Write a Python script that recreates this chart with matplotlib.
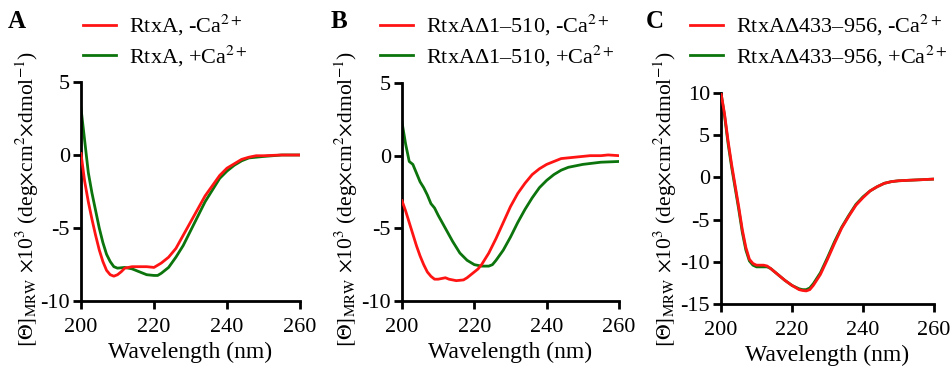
import matplotlib
matplotlib.use('Agg')
import matplotlib.pyplot as plt
from matplotlib.ticker import FuncFormatter

plt.rcParams['font.family'] = ['Liberation Serif', 'DejaVu Serif']
plt.rcParams['mathtext.fontset'] = 'stix'

# Panel A: RtxA
wl_a = [200, 201, 202, 203, 204, 205, 206, 207, 208, 209, 210, 211, 212, 214, 216, 218, 220, 222, 224, 226, 228,
        230, 232, 234, 236, 238, 240, 242, 244, 246, 248, 250, 255, 260]
a_minus = [0.1, -1.8, -3.2, -4.4, -5.5, -6.5, -7.3, -7.9, -8.2, -8.3, -8.2, -8.0, -7.75, -7.65, -7.65, -7.65, -7.7,
           -7.4, -7.0, -6.4, -5.5, -4.6, -3.7, -2.8, -2.1, -1.4, -0.9, -0.6, -0.3, -0.15, -0.05, -0.05, 0.0, 0.0]
wl_a2 = [200, 201, 202, 203, 204, 205, 206, 207, 208, 209, 210, 212, 214, 216, 218, 220, 221, 222, 224, 226, 228,
         230, 232, 234, 236, 238, 240, 242, 244, 246, 248, 250, 255, 260]
a_plus = [3.2, 1.0, -1.2, -2.6, -3.8, -5.0, -6.0, -6.8, -7.3, -7.65, -7.75, -7.7, -7.8, -8.0, -8.2, -8.25, -8.25,
          -8.1, -7.7, -7.0, -6.2, -5.2, -4.2, -3.2, -2.4, -1.6, -1.1, -0.7, -0.4, -0.2, -0.15, -0.1, 0.0, 0.0]

# Panel B: RtxA d1-510
wl_b = [200, 201, 202, 203, 204, 205, 206, 207, 208, 209, 210, 212, 213, 215, 217, 218, 219, 220, 221, 222, 224,
        226, 228, 230, 232, 234, 236, 238, 240, 242, 244, 246, 248, 250, 252, 255, 257, 260]
b_minus = [-3.1, -3.8, -4.6, -5.4, -6.2, -6.9, -7.5, -8.0, -8.3, -8.5, -8.5, -8.4, -8.5, -8.6, -8.55, -8.4, -8.2,
           -8.0, -7.8, -7.5, -6.7, -5.7, -4.6, -3.5, -2.6, -1.9, -1.3, -0.9, -0.6, -0.4, -0.2, -0.15, -0.1, -0.05,
           0.0, 0.0, 0.05, 0.0]
wl_b2 = [200, 201, 202, 203, 204, 205, 206, 207, 208, 209, 210, 212, 214, 216, 218, 220, 222, 224, 225, 226, 228,
         230, 232, 234, 236, 238, 240, 242, 244, 246, 248, 250, 255, 260]
b_plus = [2.3, 0.8, -0.4, -0.6, -1.2, -1.8, -2.2, -2.7, -3.3, -3.6, -4.1, -5.0, -5.9, -6.7, -7.2, -7.5, -7.6, -7.6,
          -7.5, -7.2, -6.5, -5.6, -4.6, -3.7, -2.9, -2.2, -1.7, -1.3, -1.0, -0.8, -0.7, -0.6, -0.45, -0.4]

# Panel C: RtxA d433-956
wl_c = [200, 201, 202, 203, 204, 205, 206, 207, 208, 209, 210, 211, 212, 213, 214, 216, 218, 220, 222, 223, 224,
        225, 226, 228, 230, 232, 234, 236, 238, 240, 242, 244, 246, 248, 250, 255, 260]
c_minus = [10.0, 7.5, 4.3, 1.5, -1.0, -3.5, -6.2, -8.3, -9.7, -10.2, -10.4, -10.4, -10.4, -10.5, -10.8, -11.5, -12.2,
           -12.8, -13.3, -13.4, -13.45, -13.3, -12.8, -11.5, -9.7, -7.8, -6.0, -4.6, -3.3, -2.4, -1.6, -1.1, -0.7,
           -0.5, -0.4, -0.3, -0.2]
c_plus = [10.0, 7.3, 4.0, 1.2, -1.3, -3.8, -6.5, -8.6, -9.9, -10.4, -10.6, -10.6, -10.6, -10.6, -10.8, -11.5, -12.2,
          -12.8, -13.2, -13.3, -13.3, -13.1, -12.6, -11.3, -9.5, -7.6, -5.9, -4.5, -3.2, -2.3, -1.6, -1.1, -0.7,
          -0.5, -0.4, -0.3, -0.2]

red = '#ff1414'
green = '#0c740c'
ylabel = r'$[\Theta]_{\rm MRW}$ $\times$10$^3$ (deg$\times$cm$^2$$\times$dmol$^{-1}$)'

W, H = 952, 373
fig = plt.figure(figsize=(W / 100, H / 100), dpi=100)

# letter, axes box (px: left, top, right, bottom), legend handle x, ylabel x, letter x
panels = [
    ('A', (81, 82, 300, 301), 83, 27, 8, wl_a, a_minus, wl_a2, a_plus, 'RtxA', (-10, 5), [-10, -5, 0, 5]),
    ('B', (402, 83, 619, 301), 380, 346, 331, wl_b, b_minus, wl_b2, b_plus, 'RtxA\u03941\u2013510', (-10, 5),
     [-10, -5, 0, 5]),
    ('C', (721, 93, 934, 304), 690, 665, 646, wl_c, c_minus, wl_c, c_plus, 'RtxA\u0394433\u2013956', (-15, 10),
     [-15, -10, -5, 0, 5, 10]),
]

fmt = FuncFormatter(lambda v, p: '%d' % v)

for letter, box, legx, labx, letx, x1, y1, x2, y2, name, ylim, yticks in panels:
    l, t, r, b = box
    ax = fig.add_axes([l / W, 1 - b / H, (r - l) / W, (b - t) / H])
    l2, = ax.plot(x2, y2, color=green, lw=2.0, zorder=2)
    l1, = ax.plot(x1, y1, color=red, lw=2.0, zorder=3)
    ax.set_xlim(200, 260)
    ax.set_ylim(*ylim)
    ax.set_xticks([200, 220, 240, 260])
    ax.set_yticks(yticks)
    ax.yaxis.set_major_formatter(fmt)
    for s in ['top', 'right']:
        ax.spines[s].set_visible(False)
    for s in ['left', 'bottom']:
        ax.spines[s].set_linewidth(2.0)
    ax.tick_params(width=2.0, length=6, labelsize=16, pad=2)
    ax.tick_params(axis='x', pad=6)
    ax.set_xlabel('Wavelength (nm)', fontsize=17, labelpad=4)
    fig.text(labx / W, 1 - 199 / H, ylabel, rotation=90, fontsize=15.5, ha='center', va='center')
    fig.legend([l1, l2], [name + ', -Ca$^{2+}$', name + ', +Ca$^{2+}$'], frameon=False, fontsize=16,
               loc='upper left', bbox_to_anchor=(legx / W, 1 - 13 / H), handlelength=1.5, handletextpad=0.55,
               labelspacing=0.25, borderaxespad=0, borderpad=0)
    fig.text(letx / W, 1 - 21 / H, letter, fontsize=18, fontweight='bold', ha='left', va='center')

fig.savefig('out.png', dpi=100)
